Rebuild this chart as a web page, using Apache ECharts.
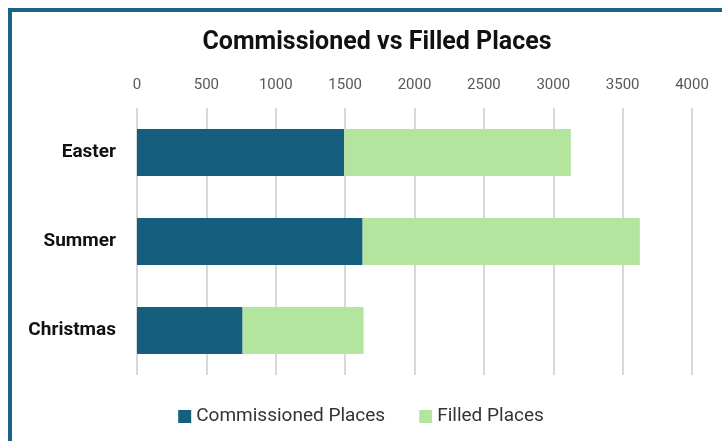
<!DOCTYPE html>
<html>
<head>
<meta charset="utf-8">
<script src="https://cdn.jsdelivr.net/npm/echarts@6/dist/echarts.min.js"></script>
<style>
  html, body { margin: 0; padding: 0; background: #ffffff; }
  #frame { position: absolute; left: 8px; top: 8px; right: 0; bottom: 0;
           border-top: 4px solid #1b6386; border-left: 4px solid #1b6386; }
  #chart { position: absolute; left: 0; top: 0; width: 722px; height: 441px; }
</style>
</head>
<body>
<div id="frame"></div>
<div id="chart"></div>
<script>
// 数据
var categories = ['Easter', 'Summer', 'Christmas'];
var commissioned = [1493, 1626, 761];
var filled = [1634, 1998, 872];
var xTicks = { min: 0, max: 4000, interval: 500 };

var myChart = echarts.init(document.getElementById('chart'));

var option = {
  backgroundColor: 'transparent',
  title: {
    text: 'Commissioned vs Filled Places',
    left: 372,
    textAlign: 'center',
    top: 25,
    textStyle: { fontFamily: 'Roboto', fontWeight: 'bold', fontSize: 25, color: '#111' }
  },
  legend: {
    orient: 'horizontal',
    bottom: 10,
    left: 'center',
    itemWidth: 13,
    itemHeight: 13,
    itemGap: 34,
    icon: 'rect',
    textStyle: { fontFamily: 'Roboto', fontSize: 19, color: '#333' },
    data: ['Commissioned Places', 'Filled Places']
  },
  grid: { left: 137, right: 30, top: 108, bottom: 66 },
  xAxis: {
    type: 'value',
    position: 'top',
    min: xTicks.min,
    max: xTicks.max,
    interval: xTicks.interval,
    axisLine: { show: false },
    axisTick: { show: false },
    axisLabel: {
      color: '#595959', fontFamily: 'Roboto', fontSize: 15, margin: 15,
      formatter: function (v) { return String(v); }
    },
    splitLine: { lineStyle: { color: '#d9d9d9', width: 2 } }
  },
  yAxis: {
    type: 'category',
    inverse: true,
    data: categories,
    axisLine: { show: false },
    axisTick: { show: false },
    axisLabel: { color: '#111', fontFamily: 'Roboto', fontWeight: 'bold', fontSize: 19, margin: 21 }
  },
  series: [
    {
      name: 'Commissioned Places',
      type: 'bar',
      stack: 'total',
      barWidth: 47,
      itemStyle: { color: '#155e7e' },
      data: commissioned
    },
    {
      name: 'Filled Places',
      type: 'bar',
      stack: 'total',
      barWidth: 47,
      itemStyle: { color: '#b4e59f' },
      data: filled
    }
  ]
};

myChart.setOption(option);

window.addEventListener('resize', function () {
  myChart.resize();
});
</script>
</body>
</html>
